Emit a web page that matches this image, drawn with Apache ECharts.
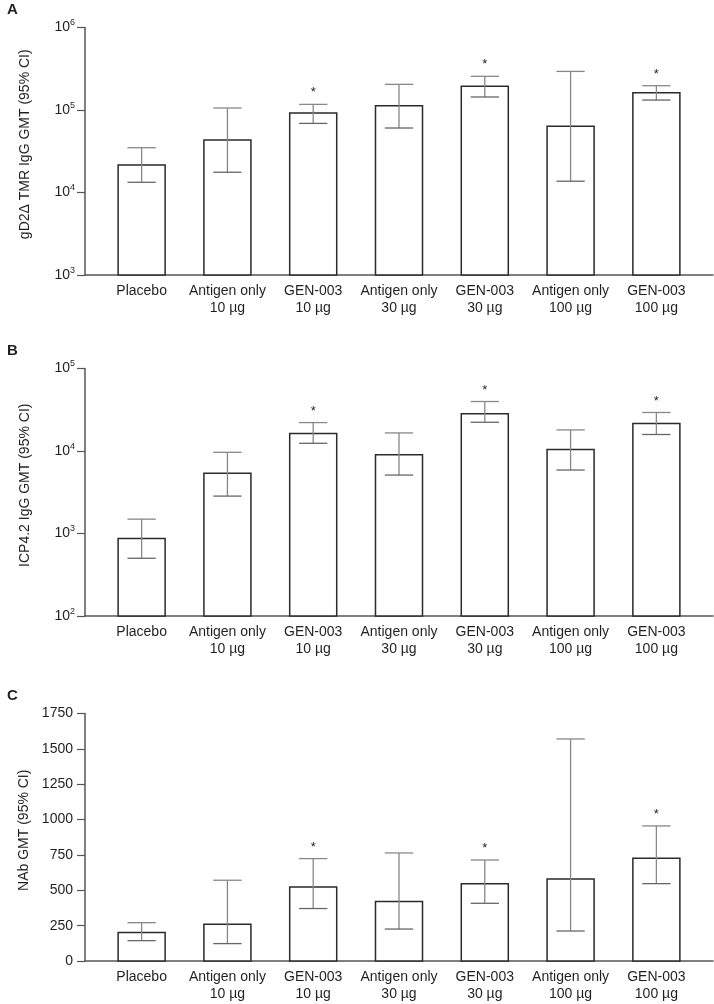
<!DOCTYPE html>
<html>
<head>
<meta charset="utf-8">
<script src="https://cdn.jsdelivr.net/npm/echarts@6/dist/echarts.min.js"></script>
<style>
html,body{margin:0;padding:0;background:#fff;}
#chart{width:714px;height:1004px;}
</style>
</head>
<body>
<div id="chart"></div>
<script>
const categories = ['Placebo', 'Antigen only\n10 µg', 'GEN-003\n10 µg', 'Antigen only\n30 µg', 'GEN-003\n30 µg', 'Antigen only\n100 µg', 'GEN-003\n100 µg'];
const significant = [false, false, true, false, true, false, true];

const gd2GMT   = [21500, 43300, 92000, 112700, 193800, 63400, 162200];
const gd2Lower = [13300, 17600, 68800, 60500, 143800, 13700, 132000];
const gd2Upper = [34900, 105700, 117000, 204600, 256000, 293600, 197000];

const icpGMT   = [869, 5360, 16270, 9030, 28200, 10400, 21500];
const icpLower = [501, 2840, 12400, 5110, 22300, 5880, 15850];
const icpUpper = [1493, 9640, 22100, 16560, 39800, 18000, 29300];

const nabGMT   = [201, 260, 523, 420, 547, 580, 726];
const nabLower = [144, 123, 371, 226, 408, 212, 547];
const nabUpper = [271, 571, 724, 764, 714, 1570, 955];

const panelLetters = ['A', 'B', 'C'];
const yNames = ['gD2\u0394 TMR IgG GMT (95% CI)', 'ICP4.2 IgG GMT (95% CI)', 'NAb GMT (95% CI)'];

const panels = [
  {gmt: gd2GMT, lo: gd2Lower, hi: gd2Upper, log: true, min: 1e3, max: 1e6},
  {gmt: icpGMT, lo: icpLower, hi: icpUpper, log: true, min: 1e2, max: 1e5},
  {gmt: nabGMT, lo: nabLower, hi: nabUpper, log: false, min: 0, max: 1750}
];

const gridTops = [27.5, 368.5, 713.5];
const gridH = 247.5;
const textColor = '#231f20';
const font = "'Liberation Sans', Arial, Helvetica, sans-serif";

const grids = [], xAxes = [], yAxes = [], series = [], titles = [];

panels.forEach((p, i) => {
  grids.push({left: 85, top: gridTops[i], width: 628, height: gridH});
  titles.push({text: panelLetters[i], left: 2, top: gridTops[i] - 30,
    textStyle: {fontSize: 15, fontWeight: 'bold', color: textColor, fontFamily: font}});
  xAxes.push({
    type: 'value', gridIndex: i, min: 0.34, max: 7.66,
    splitLine: {show: false},
    axisLine: {show: true, lineStyle: {color: '#555', width: 1.5}},
    axisTick: {show: false},
    axisLabel: {
      customValues: [1, 2, 3, 4, 5, 6, 7],
      formatter: v => categories[Math.round(v) - 1] || '',
      color: textColor, fontSize: 14, fontFamily: font, lineHeight: 17, margin: 8
    }
  });
  const yAxis = {
    gridIndex: i, min: p.min, max: p.max,
    name: yNames[i], nameLocation: 'middle', nameRotate: 90, nameGap: 53,
    nameTextStyle: {color: textColor, fontSize: 14, fontFamily: font, padding: [0, 0, 0, 14]},
    splitLine: {show: false},
    axisLine: {show: true, lineStyle: {color: '#555', width: 1.5}},
    axisTick: {show: true, inside: false, length: 8, lineStyle: {color: '#555', width: 1.2}},
    axisLabel: {color: textColor, fontSize: 14, fontFamily: font, margin: 12}
  };
  if (p.log) {
    yAxis.type = 'log';
    yAxis.logBase = 10;
    yAxis.axisLabel.formatter = v => '{b|10}{s|' + Math.round(Math.log10(v)) + '}';
    yAxis.axisLabel.rich = {
      b: {fontSize: 14, fontFamily: font, color: textColor, lineHeight: 18},
      s: {fontSize: 9, fontFamily: font, color: textColor, lineHeight: 10, verticalAlign: 'top'}
    };
    yAxis.axisLabel.margin = 10;
  } else {
    yAxis.type = 'value';
    yAxis.interval = 250;
    yAxis.axisLabel.formatter = v => String(v);
  }
  yAxes.push(yAxis);

  const data = p.gmt.map((v, k) => [k + 1, v, p.lo[k], p.hi[k], significant[k] ? 1 : 0]);
  const base = p.min;
  series.push({
    type: 'custom', xAxisIndex: i, yAxisIndex: i, data: data, clip: false,
    renderItem: function (params, api) {
      const x = api.value(0);
      const top = api.coord([x, api.value(1)]);
      const bottom = api.coord([x, base]);
      const lo = api.coord([x, api.value(2)]);
      const hi = api.coord([x, api.value(3)]);
      const unit = api.size([1, 0])[0];
      const bw = unit * 0.548;
      const cw = unit * 0.33;
      const children = [
        {type: 'rect', shape: {x: top[0] - bw / 2, y: top[1], width: bw, height: bottom[1] - top[1]},
          style: {fill: '#fff', stroke: '#2a2a2a', lineWidth: 1.5}},
        {type: 'line', shape: {x1: top[0], y1: hi[1], x2: top[0], y2: lo[1]},
          style: {stroke: '#888', lineWidth: 1.3}},
        {type: 'line', shape: {x1: top[0] - cw / 2, y1: hi[1], x2: top[0] + cw / 2, y2: hi[1]},
          style: {stroke: '#888', lineWidth: 1.3}},
        {type: 'line', shape: {x1: top[0] - cw / 2, y1: lo[1], x2: top[0] + cw / 2, y2: lo[1]},
          style: {stroke: '#666', lineWidth: 1.3}}
      ];
      if (api.value(4)) {
        children.push({type: 'text', x: top[0], y: hi[1] - 5,
          style: {text: '*', fill: textColor, fontSize: 13, fontFamily: font, align: 'center', verticalAlign: 'bottom'}});
      }
      return {type: 'group', children: children};
    }
  });
});

const chart = echarts.init(document.getElementById('chart'), null, {renderer: 'canvas'});
chart.setOption({
  animation: false,
  backgroundColor: '#fff',
  title: titles,
  grid: grids,
  xAxis: xAxes,
  yAxis: yAxes,
  series: series
});
</script>
</body>
</html>
